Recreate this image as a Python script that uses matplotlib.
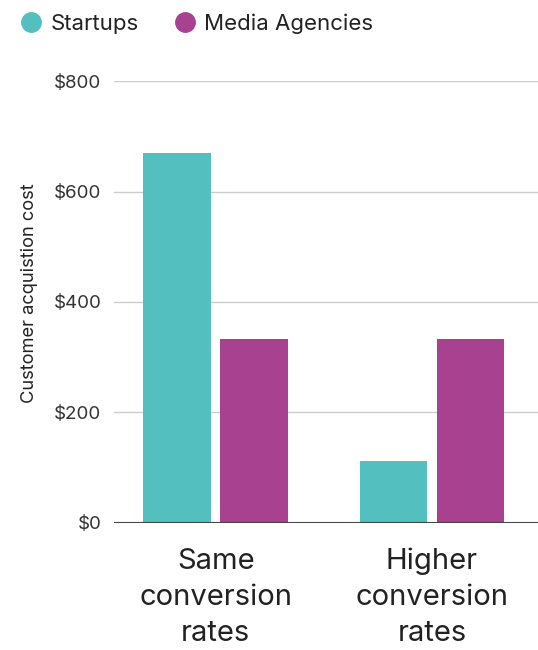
import numpy as np
import matplotlib.pyplot as plt
from matplotlib.lines import Line2D
from matplotlib.ticker import FuncFormatter

plt.rcParams['font.family'] = ['Inter', 'DejaVu Sans']

categories = ['Same\nconversion\nrates', 'Higher\nconversion\nrates']
startups = [670, 111]
media_agencies = [333, 333]
series_names = ['Startups', 'Media Agencies']
yticks = [0, 200, 400, 600, 800]

teal = '#53bfbf'
purple = '#a8418f'

fig = plt.figure(figsize=(5.38, 6.5), dpi=100)
ax = fig.add_axes([0.212, 0.196, 0.788, 0.679])

x = np.arange(len(categories))
w = 0.314
off = 0.178
ax.bar(x - off, startups, w, color=teal, zorder=3)
ax.bar(x + off, media_agencies, w, color=purple, zorder=3)

ax.set_ylim(0, 800)
ax.set_xlim(-0.47, 1.49)
ax.set_yticks(yticks)
ax.yaxis.set_major_formatter(FuncFormatter(lambda v, p: '${:,.0f}'.format(v)))
ax.grid(axis='y', color='#cccccc', linewidth=1, zorder=0)
ax.axhline(0, color='#444444', linewidth=1.5, zorder=4)
for s in ax.spines.values():
    s.set_visible(False)
ax.tick_params(axis='y', length=0, pad=9, labelsize=13.5, labelcolor='#333333')
ax.tick_params(axis='x', length=0, pad=18, labelsize=21, labelcolor='#222222')
ax.set_xticks(x)
ax.set_xticklabels(categories, linespacing=1.43)
ax.set_ylabel('Customer acquistion cost', fontsize=13.2, color='#222222')
ax.yaxis.set_label_coords(-0.18, 0.52)

handles = [Line2D([], [], marker='o', linestyle='', markersize=14, color=teal),
           Line2D([], [], marker='o', linestyle='', markersize=14, color=purple)]
fig.legend(handles, series_names, loc='upper left', bbox_to_anchor=(-0.02, 1.01),
           ncol=2, frameon=False, fontsize=16, handletextpad=-0.15,
           columnspacing=1.1, labelcolor='#222222')

fig.savefig('out.png', dpi=100)
